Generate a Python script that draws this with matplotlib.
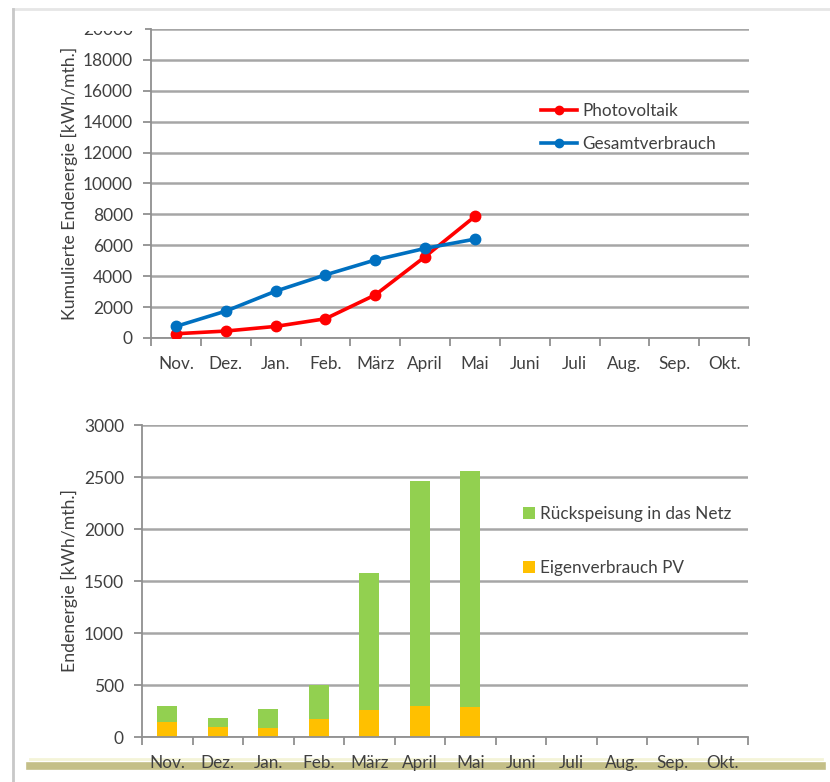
import matplotlib.pyplot as plt
import numpy as np
from matplotlib.lines import Line2D
from matplotlib.patches import Rectangle

plt.rcParams['font.family'] = ['Lato', 'DejaVu Sans']

# --- data ---
months = ['Nov.', 'Dez.', 'Jan.', 'Feb.', 'März', 'April', 'Mai',
          'Juni', 'Juli', 'Aug.', 'Sep.', 'Okt.']
measured = ['Nov.', 'Dez.', 'Jan.', 'Feb.', 'März', 'April', 'Mai']

pv_cum = [275, 450, 750, 1245, 2790, 5265, 7870]          # Photovoltaik
verbrauch_cum = [750, 1740, 3030, 4085, 5050, 5800, 6400]  # Gesamtverbrauch

eigenverbrauch = [140, 97, 84, 171, 258, 299, 284]        # Eigenverbrauch PV
rueckspeisung = [159, 81, 190, 329, 1319, 2161, 2276]     # Rückspeisung in das Netz

text_col = '#404040'
grid_col = '#a6a6a6'
red = '#ff0000'
blue = '#0070c0'
green = '#92d050'
orange = '#ffc000'

fig = plt.figure(figsize=(8.30, 7.82), dpi=100)
fig.patch.set_facecolor('white')

W, H = 830, 782
def box(left, top, right, bottom):
    return [left / W, 1 - bottom / H, (right - left) / W, (bottom - top) / H]

ax1 = fig.add_axes(box(151, 29, 749, 338))
ax2 = fig.add_axes(box(142, 425, 748, 737))

x = np.arange(len(measured))


def style_axis(ax, ymax, step):
    ax.set_xlim(-0.5, len(months) - 0.5)
    ax.set_ylim(0, ymax)
    ax.set_yticks(np.arange(0, ymax + 1, step))
    ax.set_xticks(np.arange(len(months)))
    ax.set_xticklabels(months)
    ax.set_xticks(np.arange(-0.5, len(months)), minor=True)
    ax.tick_params(axis='x', which='major', length=0, pad=13,
                   labelsize=12.3, labelcolor=text_col)
    ax.tick_params(axis='x', which='minor', length=6, width=1.3,
                   color='#909090', direction='out')
    ax.tick_params(axis='y', length=6, width=1.3, color='#909090',
                   pad=7, labelsize=12.5, labelcolor=text_col)
    for s in ['top', 'right']:
        ax.spines[s].set_visible(False)
    for s in ['left', 'bottom']:
        ax.spines[s].set_color('#909090')
        ax.spines[s].set_linewidth(1.3)
    ax.grid(axis='y', color=grid_col, linewidth=1.8)
    ax.set_axisbelow(True)


# --- top chart: cumulative energy ---
style_axis(ax1, 20000, 2000)
ax1.plot(x, pv_cum, color=red, linewidth=2.6, marker='o', markersize=7.5,
         label='Photovoltaik', zorder=3)
ax1.plot(x, verbrauch_cum, color=blue, linewidth=2.6, marker='o', markersize=7.5,
         label='Gesamtverbrauch', zorder=3)
ax1.set_ylabel('Kumulierte Endenergie [kWh/mth.]', fontsize=12.7, color=text_col)
ax1.yaxis.set_label_coords(-0.122, 0.5)
ax1.legend(loc='upper left', bbox_to_anchor=((526 - 151) / 598, (338 - 88) / 309),
           frameon=False, fontsize=12.3, handlelength=2.1, handletextpad=0.3,
           labelspacing=1.0, labelcolor=text_col, markerscale=0.8)

# --- bottom chart: monthly energy ---
style_axis(ax2, 3000, 500)
ax2.bar(x, eigenverbrauch, width=0.4, color=orange, label='Eigenverbrauch PV', zorder=2)
ax2.bar(x, rueckspeisung, width=0.4, bottom=eigenverbrauch, color=green,
        label='Rückspeisung in das Netz', zorder=2)
ax2.set_ylabel('Endenergie [kWh/mth.]', fontsize=12.7, color=text_col)
ax2.yaxis.set_label_coords(-0.106, 0.5)
handles, labels = ax2.get_legend_handles_labels()
ax2.legend(handles[::-1], labels[::-1], loc='upper left',
           bbox_to_anchor=((508 - 142) / 606, (737 - 491) / 312),
           frameon=False, fontsize=12.3, handlelength=0.7, handleheight=0.7,
           handletextpad=0.3, labelspacing=2.2, labelcolor=text_col)

# --- page decorations: cropped top, left edge, olive rule at the bottom ---
# the scan cuts off most of the "20000" label
fig.add_artist(Rectangle((60 / W, 1 - 30.5 / H), 85 / W, 21 / H, transform=fig.transFigure,
                         facecolor='white', edgecolor='none', zorder=10))
fig.add_artist(Line2D([13 / W, 1], [1 - 9 / H, 1 - 9 / H], transform=fig.transFigure,
                      color='#e6e6e6', linewidth=2, zorder=11))
fig.add_artist(Line2D([13 / W, 13 / W], [0, 1 - 9 / H], transform=fig.transFigure,
                      color='#c8c8c8', linewidth=2, zorder=11))
fig.add_artist(Line2D([30 / W, 822 / W], [1 - 759 / H, 1 - 759 / H],
                      transform=fig.transFigure, color='#f4f4d8', linewidth=2, zorder=0))
fig.add_artist(Line2D([30 / W, 822 / W], [1 - 766 / H, 1 - 766 / H],
                      transform=fig.transFigure, color='#c4bf88', linewidth=5.5, zorder=0))

fig.savefig('out.png', dpi=100)
